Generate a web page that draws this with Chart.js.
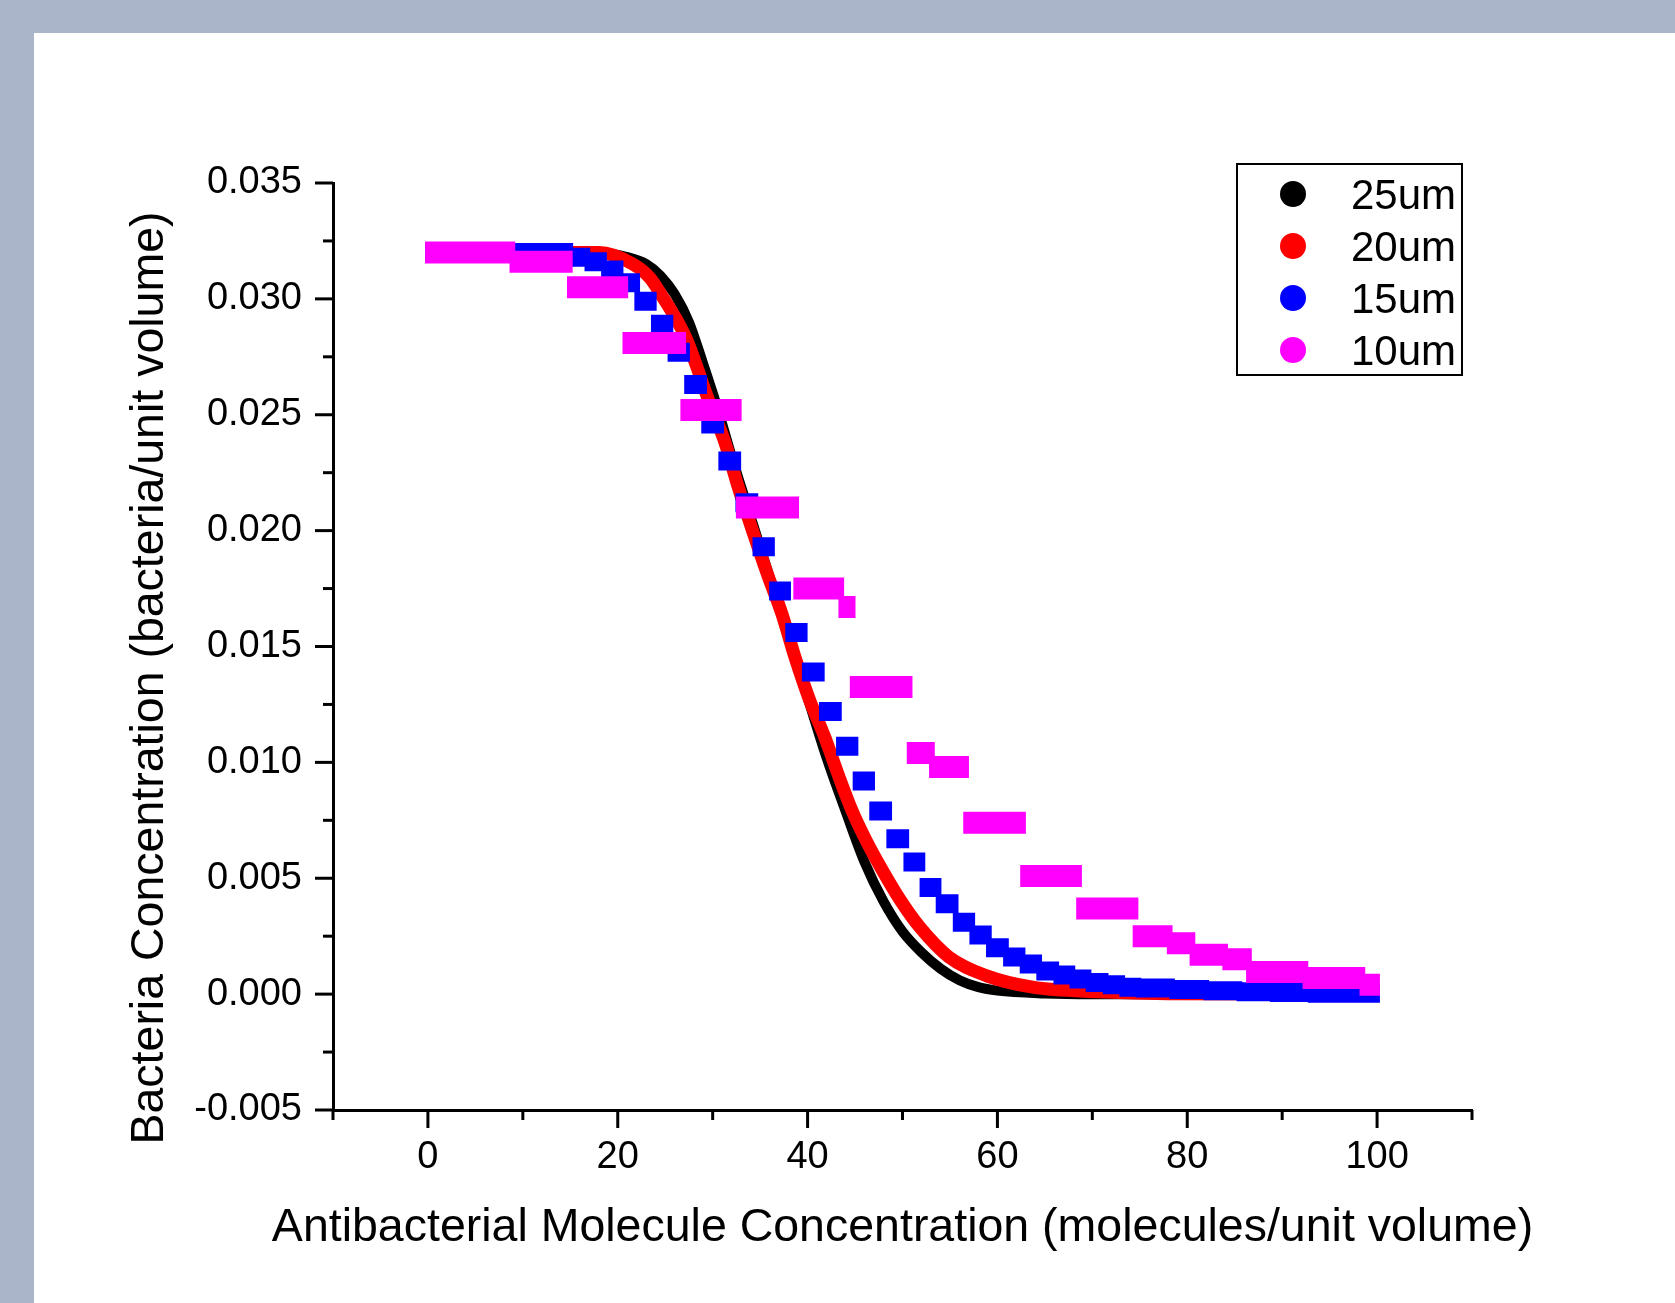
<!DOCTYPE html>
<html lang="en">
<head>
<meta charset="UTF-8">
<title>Bacteria Concentration vs Antibacterial Molecule Concentration</title>
<script src="https://cdn.jsdelivr.net/npm/chart.js"></script>
<style>
  html, body { margin: 0; padding: 0; background: #aab5c9; width: 1675px; height: 1303px; overflow: hidden; }
  .frame { position: absolute; left: 34px; top: 33px; width: 1641px; height: 1270px; background: #fff; }
</style>
</head>
<body>
<div class="frame"><canvas id="chart"></canvas></div>
<script>
// 25um and 20um: smooth curves
const x25 = [0, 10, 18, 21, 23, 24.5, 26, 27.5, 29, 30.5, 32, 34, 36, 38, 40, 42, 44, 46, 48, 50, 52, 54, 56, 58, 60, 65, 70, 80, 100];
const y25 = [0.0320, 0.0320, 0.0320, 0.0318, 0.0315, 0.0310, 0.0302, 0.0290, 0.0272, 0.0253, 0.0232, 0.0206, 0.0180, 0.0154, 0.0128, 0.0102, 0.0079, 0.0057, 0.0040, 0.0027, 0.0018, 0.0011, 0.0006, 0.0003, 0.00015, 0.00003, 0, 0, 0];

const x20 = [0, 10, 18, 21.6, 23.4, 24.7, 26.2, 27.3, 28.3, 29.5, 31.3, 32.6, 34.2, 35.7, 37.3, 38.7, 40.2, 41.8, 43.2, 44.7, 46.2, 47.8, 49.7, 51.8, 54.9, 58.8, 63.7, 70.7, 78, 100];
const y20 = [0.0320, 0.0320, 0.0320, 0.0315, 0.0309, 0.0301, 0.0291, 0.0282, 0.0271, 0.0257, 0.0238, 0.0220, 0.0200, 0.0182, 0.0164, 0.0145, 0.0127, 0.0111, 0.0095, 0.0079, 0.0066, 0.0054, 0.0041, 0.0029, 0.0016, 0.0008, 0.0003, 0.0001, 0.00002, 0];

// 15um and 10um come out as steps: edges has one entry more than levels
const edges15 = [0, 15.0, 16.8, 18.55, 20.3, 22.05, 23.8, 25.55, 27.3, 29.1, 30.9, 32.7, 34.5, 36.25, 37.95, 39.7, 41.5, 43.3, 45.05, 46.8, 48.6, 50.4, 52.1, 53.8, 55.6, 57.35, 59.1, 60.9, 62.65, 64.4, 66.2, 67.9, 69.6, 71.4, 73.15, 74.85, 78.4, 82, 85.5, 89, 93, 100];
const levels15 = [0.0320, 0.0318, 0.0316, 0.03125, 0.0307, 0.0299, 0.0289, 0.0277, 0.0263, 0.0246, 0.0230, 0.0212, 0.0193, 0.0174, 0.0156, 0.0139, 0.0122, 0.0107, 0.0092, 0.0079, 0.0067, 0.0057, 0.0046, 0.0039, 0.0031, 0.00255, 0.0020, 0.0016, 0.0013, 0.0010, 0.00083, 0.00065, 0.0005, 0.0004, 0.0003, 0.00026, 0.0002, 0.00015, 0.0001, 0.00007, 0.00004];

const edges10 = [0, 8.9, 14.95, 20.8, 26.9, 32.75, 38.8, 43.55, 44.75, 50.75, 53.1, 56.7, 62.7, 68.6, 74.55, 78.15, 80.55, 84.0, 86.5, 92.45, 98.45, 100];
const levels10 = [0.0320, 0.0316, 0.0305, 0.0281, 0.0252, 0.0210, 0.0175, 0.0167, 0.01325, 0.0104, 0.0098, 0.0074, 0.0051, 0.0037, 0.0025, 0.0022, 0.0017, 0.0015, 0.00095, 0.0007, 0.0004];

const seriesLabels = ['25um', '20um', '15um', '10um'];
const xLabelled = [0, 20, 40, 60, 80, 100];
const xTitle = 'Antibacterial Molecule Concentration (molecules/unit volume)';
const yTitle = 'Bacteria Concentration (bacteria/unit volume)';

const FONT = '"Liberation Sans", Arial, sans-serif';
const SPREAD = 0.3; // the cross markers smear each step a little past its edges

const curve = (xs, ys) => xs.map((x, i) => ({ x: x, y: ys[i] }));

// each level becomes a flat segment, with a gap before the next one
const steps = (edges, levels) => {
    const pts = [];
    levels.forEach((y, i) => {
        pts.push({ x: edges[i] - SPREAD, y: y }, { x: edges[i + 1] + SPREAD, y: y }, { x: edges[i + 1] + SPREAD, y: null });
    });
    return pts;
};

const isMajorY = v => Math.abs(v * 200 - Math.round(v * 200)) < 1e-6;

// tick marks (long at labelled values, short between) and the axis titles,
// which are wider than the plot so the built-in title would squeeze them
const axisDecor = {
    id: 'axisDecor',
    afterDraw(chart) {
        const { ctx, scales: { x, y } } = chart;
        ctx.save();
        ctx.strokeStyle = '#000';
        ctx.lineWidth = 3;
        x.ticks.forEach(t => {
            const px = x.getPixelForValue(t.value);
            const len = xLabelled.includes(Math.round(t.value)) ? 18 : 10;
            ctx.beginPath();
            ctx.moveTo(px, x.top);
            ctx.lineTo(px, x.top + len);
            ctx.stroke();
        });
        y.ticks.forEach(t => {
            const py = y.getPixelForValue(t.value);
            const len = isMajorY(t.value) ? 18 : 10;
            ctx.beginPath();
            ctx.moveTo(y.right, py);
            ctx.lineTo(y.right - len, py);
            ctx.stroke();
        });

        ctx.fillStyle = '#000';
        ctx.textAlign = 'center';
        ctx.textBaseline = 'middle';
        ctx.font = '46.5px ' + FONT;
        ctx.fillText(xTitle, (x.left + x.right) / 2, 1195);

        // y title sits a little lower than the middle of the axis
        ctx.translate(116, 645);
        ctx.rotate(-Math.PI / 2);
        ctx.fillText(yTitle, 0, 0);
        ctx.restore();
    }
};

// boxed legend with round markers
const boxLegend = {
    id: 'boxLegend',
    afterDraw(chart) {
        const ctx = chart.ctx;
        ctx.save();
        ctx.strokeStyle = '#000';
        ctx.lineWidth = 2;
        ctx.strokeRect(1203, 131, 225, 211);
        ctx.font = '42px ' + FONT;
        ctx.textAlign = 'right';
        ctx.textBaseline = 'alphabetic';
        chart.data.datasets.forEach((ds, i) => {
            const cy = 161 + i * 52;
            ctx.fillStyle = ds.borderColor;
            ctx.beginPath();
            ctx.arc(1259, cy, 13, 0, 2 * Math.PI);
            ctx.fill();
            ctx.fillStyle = '#000';
            ctx.fillText(ds.label, 1422, cy + 15);
        });
        ctx.restore();
    }
};

const lineStyle = { pointRadius: 0, fill: false, spanGaps: false };

new Chart(document.getElementById('chart'), {
    type: 'line',
    data: {
        datasets: [
            { ...lineStyle, label: seriesLabels[0], data: curve(x25, y25), borderColor: '#000000', backgroundColor: '#000000', borderWidth: 10, cubicInterpolationMode: 'monotone', order: 3 },
            { ...lineStyle, label: seriesLabels[1], data: curve(x20, y20), borderColor: '#ff0000', backgroundColor: '#ff0000', borderWidth: 13, cubicInterpolationMode: 'monotone', order: 2 },
            { ...lineStyle, label: seriesLabels[2], data: steps(edges15, levels15), borderColor: '#0000ff', backgroundColor: '#0000ff', borderWidth: 19, borderCapStyle: 'butt', tension: 0, order: 1 },
            { ...lineStyle, label: seriesLabels[3], data: steps(edges10, levels10), borderColor: '#ff00ff', backgroundColor: '#ff00ff', borderWidth: 22, borderCapStyle: 'butt', tension: 0, order: 0 }
        ]
    },
    options: {
        responsive: true,
        maintainAspectRatio: false,
        animation: false,
        layout: { padding: { left: 0, top: 150, right: 203, bottom: 0 } },
        plugins: {
            legend: { display: false },
            tooltip: { enabled: false }
        },
        scales: {
            x: {
                type: 'linear',
                min: -10,
                max: 110,
                afterFit: scale => { scale.height = 193; },
                border: { display: true, color: '#000', width: 3 },
                grid: { display: false, drawTicks: false },
                ticks: {
                    stepSize: 10,
                    autoSkip: false,
                    maxRotation: 0,
                    padding: 25,
                    color: '#000',
                    font: { family: FONT, size: 38 },
                    callback: v => xLabelled.includes(Math.round(v)) ? String(Math.round(v)) : ''
                }
            },
            y: {
                type: 'linear',
                min: -0.005,
                max: 0.035,
                afterFit: scale => { scale.width = 299; },
                border: { display: true, color: '#000', width: 3 },
                grid: { display: false, drawTicks: false },
                ticks: {
                    stepSize: 0.0025,
                    autoSkip: false,
                    padding: 31,
                    color: '#000',
                    font: { family: FONT, size: 38 },
                    callback: v => {
                        if (!isMajorY(v)) return '';
                        if (Math.abs(v) < 1e-9) return '0.000';
                        return v.toFixed(3);
                    }
                }
            }
        }
    },
    plugins: [axisDecor, boxLegend]
});
</script>
</body>
</html>
